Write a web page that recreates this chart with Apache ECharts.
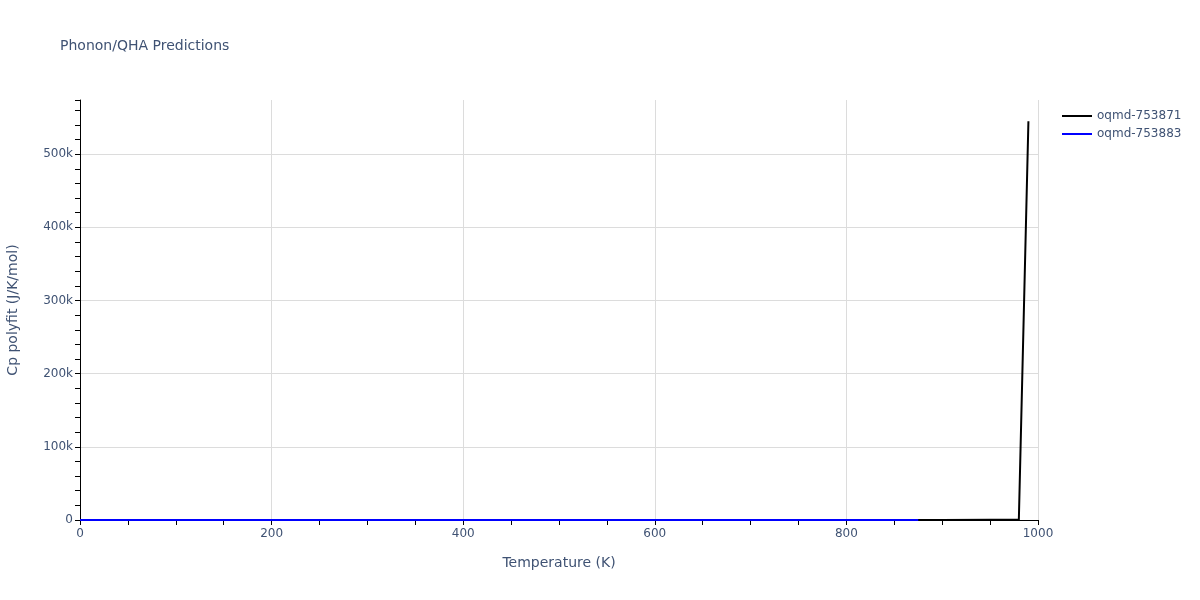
<!DOCTYPE html>
<html>
<head>
<meta charset="utf-8">
<script src="https://cdn.jsdelivr.net/npm/echarts@6/dist/echarts.min.js"></script>
<style>html,body{margin:0;padding:0;background:#fff;}#c{width:1200px;height:600px;}</style>
</head>
<body>
<div id="c"></div>
<script>
var seriesNames = ['oqmd-753871', 'oqmd-753883'];
var tempsA = [0, 50, 100, 150, 200, 250, 300, 350, 400, 450, 500, 550, 600, 650, 700, 750, 800, 850, 900, 950, 980, 990];
var cpA = [0, 35, 62, 78, 86, 90, 93, 95, 96, 97, 98, 99, 100, 101, 103, 106, 110, 118, 150, 400, 200, 545000];
var tempsB = [0, 50, 100, 150, 200, 250, 300, 350, 400, 450, 500, 550, 600, 650, 700, 750, 800, 850, 875];
var cpB = [0, 34, 60, 77, 85, 89, 92, 94, 95, 96, 97, 98, 99, 100, 101, 103, 105, 108, 110];
var yTicks = [0, 100000, 200000, 300000, 400000, 500000];

function pairs(xs, ys) { return xs.map(function (x, i) { return [x, ys[i]]; }); }

var chart = echarts.init(document.getElementById('c'));
var txt = '#3f5273';
var ff = 'DejaVu Sans';
chart.setOption({
  animation: false,
  backgroundColor: '#fff',
  title: { text: 'Phonon/QHA Predictions', left: 55, top: 34,
    textStyle: { fontFamily: ff, fontSize: 14, fontWeight: 'normal', color: txt } },
  legend: {
    orient: 'vertical', left: 1057, top: 105, itemGap: 6,
    itemWidth: 30, itemHeight: 2, icon: 'rect',
    textStyle: { fontFamily: ff, fontSize: 12, color: txt },
    data: seriesNames
  },
  grid: { left: 80, right: 162, top: 100, bottom: 80, containLabel: false, outerBoundsMode: 'none' },
  xAxis: {
    type: 'value', min: 0, max: 1000, interval: 200,
    name: 'Temperature (K)', nameLocation: 'middle', nameGap: 36,
    nameTextStyle: { fontFamily: ff, fontSize: 14, color: txt },
    axisLine: { show: true, lineStyle: { color: '#000', width: 1 } },
    axisTick: { show: true, length: 5, lineStyle: { color: '#000' } },
    minorTick: { show: true, splitNumber: 4, length: 5, lineStyle: { color: '#000' } },
    axisLabel: { fontFamily: ff, fontSize: 12, color: txt, margin: 8,
      formatter: function (v) { return String(v); } },
    splitLine: { show: true, lineStyle: { color: '#dcdcdc' } }
  },
  yAxis: {
    type: 'value', min: 0, max: 574000, interval: 100000,
    name: 'Cp polyfit (J/K/mol)', nameLocation: 'middle', nameGap: 60,
    nameTextStyle: { fontFamily: ff, fontSize: 14, color: txt },
    axisLine: { show: true, lineStyle: { color: '#000', width: 1 } },
    axisTick: { show: true, length: 5, lineStyle: { color: '#000' } },
    minorTick: { show: true, splitNumber: 5, length: 5, lineStyle: { color: '#000' } },
    axisLabel: { fontFamily: ff, fontSize: 12, color: txt, margin: 7, showMaxLabel: false,
      formatter: function (v) { if (yTicks.indexOf(v) < 0) return ''; return v === 0 ? '0' : (v / 1000) + 'k'; } },
    splitLine: { show: true, showMaxLine: false, lineStyle: { color: '#dcdcdc' } }
  },
  series: [
    { name: seriesNames[0], type: 'line', data: pairs(tempsA, cpA), showSymbol: false,
      lineStyle: { color: '#000', width: 2 }, itemStyle: { color: '#000' } },
    { name: seriesNames[1], type: 'line', data: pairs(tempsB, cpB), showSymbol: false,
      lineStyle: { color: '#0000ff', width: 2 }, itemStyle: { color: '#0000ff' } }
  ]
});
</script>
</body>
</html>
